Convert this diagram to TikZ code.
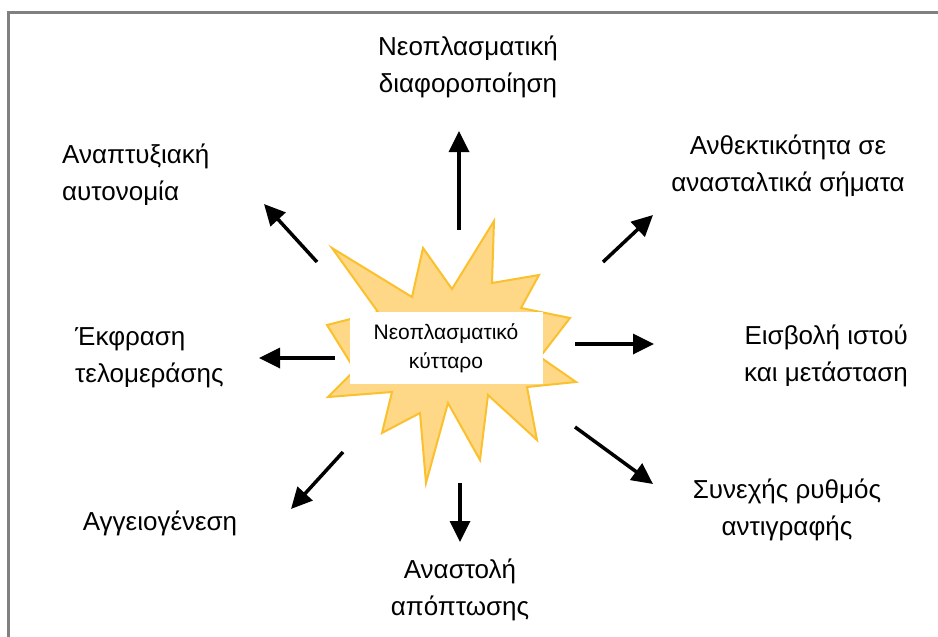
\documentclass[tikz,border=0pt]{standalone}
\usepackage{fontspec}
\setmainfont{Liberation Sans}
\usetikzlibrary{arrows.meta}

\begin{document}
\begin{tikzpicture}[x=1pt, y=-1pt]
{
	\tikzstyle{outcome} = [inner sep=0pt, align=center, font=\fontsize{26}{37}\selectfont]
	\tikzstyle{cellbox} = [rectangle, fill=white, minimum width=193pt, minimum height=72pt, inner sep=0pt, align=center, font=\fontsize{21}{29}\selectfont]
	\tikzstyle{arrow} = [line width=3.5pt, -{Triangle[length=21pt, width=20pt]}]
	\definecolor{starfill}{RGB}{254,216,134}
	\definecolor{starline}{RGB}{251,192,45}
	\definecolor{frame}{RGB}{128,128,128}

	\useasboundingbox (0,0) rectangle (938,637);
	\draw [frame, line width=3pt] (8,640) -- (8,12) -- (941,12);

	% burst behind the cell
	\draw [fill=starfill, draw=starline, line width=2pt, line join=miter]
		(332,248) -- (412,297) -- (423,248) -- (452,289) -- (494,221) -- (492,283)
		-- (539,275) -- (521,308) -- (570,318) -- (540,357) -- (576,382) -- (527,387)
		-- (537,440) -- (488,395) -- (480,460) -- (448,403) -- (426,483) -- (420,413)
		-- (382,433) -- (392,392) -- (328,397) -- (355,370) -- (327,325) -- (378,312)
		-- cycle;
	\node (cell) [cellbox] at (446,348) {Νεοπλασματικό\\κύτταρο};

	\node (diff) [outcome] at (468,67) {Νεοπλασματική\\διαφοροποίηση};
	\node (autonomy) [outcome, align=left, anchor=west] at (62,175) {Αναπτυξιακή\\αυτονομία};
	\node (resist) [outcome] at (788,166) {Ανθεκτικότητα σε\\ανασταλτικά σήματα};
	\node (telo) [outcome, align=left, anchor=west] at (75,358) {Έκφραση\\τελομεράσης};
	\node (invasion) [outcome, align=right, anchor=east] at (908,356) {Εισβολή ιστού\\και μετάσταση};
	\node (angio) [outcome] at (160,523) {Αγγειογένεση};
	\node (repl) [outcome] at (787,510) {Συνεχής ρυθμός\\αντιγραφής};
	\node (apop) [outcome] at (460,590) {Αναστολή\\απόπτωσης};

	\coordinate (upA) at (459,230);      \coordinate (upB) at (459,131);
	\coordinate (ulA) at (317,262);      \coordinate (ulB) at (264,204);
	\coordinate (lfA) at (335,358);      \coordinate (lfB) at (259,358);
	\coordinate (dlA) at (343,452);      \coordinate (dlB) at (291,509);
	\coordinate (dnA) at (460,483);      \coordinate (dnB) at (460,542);
	\coordinate (drA) at (575,427);      \coordinate (drB) at (653,484);
	\coordinate (rtA) at (575,344);      \coordinate (rtB) at (654,344);
	\coordinate (urA) at (603,262);      \coordinate (urB) at (653,215);

	\draw [arrow] (upA) -- (upB);
	\draw [arrow] (ulA) -- (ulB);
	\draw [arrow] (lfA) -- (lfB);
	\draw [arrow] (dlA) -- (dlB);
	\draw [arrow] (dnA) -- (dnB);
	\draw [arrow] (drA) -- (drB);
	\draw [arrow] (rtA) -- (rtB);
	\draw [arrow] (urA) -- (urB);
}
\end{tikzpicture}
\end{document}
